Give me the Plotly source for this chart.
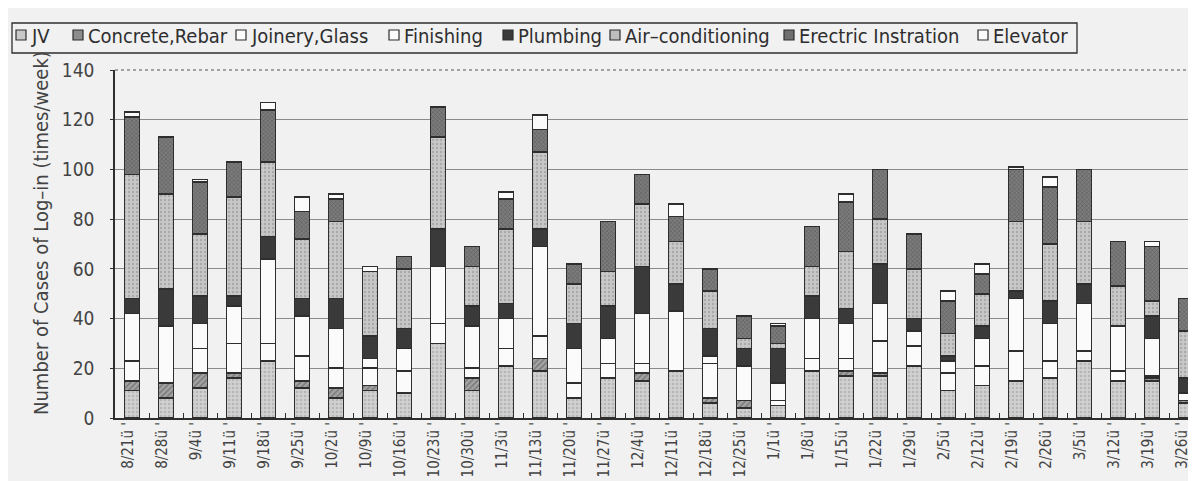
import plotly.graph_objects as go

weeks = ["8/21ü", "8/28ü", "9/4ü", "9/11ü", "9/18ü", "9/25ü", "10/2ü", "10/9ü",
         "10/16ü", "10/23ü", "10/30ü", "11/3ü", "11/13ü", "11/20ü", "11/27ü", "12/4ü",
         "12/11ü", "12/18ü", "12/25ü", "1/1ü", "1/8ü", "1/15ü", "1/22ü", "1/29ü",
         "2/5ü", "2/12ü", "2/19ü", "2/26ü", "3/5ü", "3/12ü", "3/19ü", "3/26ü"]

jv           = [11, 8, 12, 16, 23, 12, 8, 11, 10, 30, 11, 21, 19, 8, 16, 15,
                19, 6, 4, 5, 19, 17, 17, 21, 11, 13, 15, 16, 23, 15, 15, 6]
concrete     = [4, 6, 6, 2, 0, 3, 4, 2, 0, 0, 5, 0, 5, 0, 0, 3,
                0, 2, 3, 0, 0, 2, 1, 0, 0, 0, 0, 0, 0, 0, 1, 1]
joinery      = [8, 0, 10, 12, 7, 10, 8, 7, 9, 8, 4, 7, 9, 6, 6, 4,
                0, 14, 0, 2, 5, 5, 13, 8, 7, 8, 12, 7, 4, 4, 1, 0]
finishing    = [19, 23, 10, 15, 34, 16, 16, 4, 9, 23, 17, 12, 36, 14, 10, 20,
                24, 3, 14, 7, 16, 14, 15, 6, 5, 11, 21, 15, 19, 18, 15, 3]
plumbing     = [6, 15, 11, 4, 9, 7, 12, 9, 8, 15, 8, 6, 7, 10, 13, 19,
                11, 11, 7, 14, 9, 6, 16, 5, 2, 5, 3, 9, 8, 0, 9, 6]
aircon       = [50, 38, 25, 40, 30, 24, 31, 26, 24, 37, 16, 30, 31, 16, 14, 25,
                17, 15, 4, 2, 12, 23, 18, 20, 9, 13, 28, 23, 25, 16, 6, 19]
electric     = [23, 23, 21, 14, 21, 11, 9, 0, 5, 12, 8, 12, 9, 8, 20, 12,
                10, 9, 9, 7, 16, 20, 20, 14, 13, 8, 21, 23, 21, 18, 22, 13]
elevator     = [2, 0, 1, 0, 3, 6, 2, 2, 0, 0, 0, 3, 6, 0, 0, 0,
                5, 0, 0, 1, 0, 3, 0, 0, 4, 4, 1, 4, 0, 0, 2, 0]

series_names = ["JV", "Concrete,Rebar", "Joinery,Glass", "Finishing", "Plumbing",
                "Air\u2013conditioning", "Erectric Instration", "Elevator"]
series_vals = [jv, concrete, joinery, finishing, plumbing, aircon, electric, elevator]

y_ticks = [0, 20, 40, 60, 80, 100, 120, 140]

FONT = "DejaVu Sans Condensed, Liberation Sans Narrow, DejaVu Sans, sans-serif"
INK = "#2e2e2e"
BG = "#f1f1f1"

styles = [
    dict(color="#d0d0d0", pattern=dict(shape=".", bgcolor="#d0d0d0", fgcolor="#9c9c9c", size=4, solidity=0.3)),
    dict(color="#9a9a9a", pattern=dict(shape="/", bgcolor="#a4a4a4", fgcolor="#505050", size=4, solidity=0.4)),
    dict(color="#fbfbfb"),
    dict(color="#fbfbfb"),
    dict(color="#3a3a3a"),
    dict(color="#c4c4c4", pattern=dict(shape=".", bgcolor="#c8c8c8", fgcolor="#8c8c8c", size=4, solidity=0.3)),
    dict(color="#767676", pattern=dict(shape="x", bgcolor="#7c7c7c", fgcolor="#3c3c3c", size=3, solidity=0.35)),
    dict(color="#fbfbfb"),
]
swatch_colors = ["#c8c8c8", "#8c8c8c", "#fbfbfb", "#fbfbfb", "#3a3a3a", "#bdbdbd", "#6e6e6e", "#fbfbfb"]

labels = [w + " '" for w in weeks]

fig = go.Figure()
for name, vals, st in zip(series_names, series_vals, styles):
    marker = dict(color=st["color"], line=dict(color=INK, width=1.6))
    if "pattern" in st:
        marker["pattern"] = st["pattern"]
    fig.add_trace(go.Bar(x=labels, y=vals, name=name, marker=marker, showlegend=False))

L, R, T, B = 107, 1195, 62, 410
W, H = 1196, 481

def px(x):
    return (x - L) / (R - L)

def py(y):
    return (B - y) / (B - T)

shapes = []
annotations = []
# plot frame: dotted top and right
shapes.append(dict(type="line", xref="paper", yref="paper", x0=0, x1=1, y0=1, y1=1,
                   line=dict(color="#555", width=1.2, dash="dot")))
shapes.append(dict(type="line", xref="paper", yref="paper", x0=1, x1=1, y0=0, y1=1,
                   line=dict(color="#555", width=1.2, dash="dot")))

# legend box
shapes.append(dict(type="rect", xref="paper", yref="paper", x0=px(4), x1=px(1069), y0=py(15), y1=py(45),
                   line=dict(color=INK, width=1.3), fillcolor=BG, layer="above"))
sw_x = [8, 65, 228, 381, 495, 602, 776, 970]
for sx, col, name in zip(sw_x, swatch_colors, series_names):
    shapes.append(dict(type="rect", xref="paper", yref="paper", x0=px(sx), x1=px(sx + 10),
                       y0=py(22), y1=py(32), line=dict(color=INK, width=1.2), fillcolor=col, layer="above"))
    annotations.append(dict(text=name, xref="paper", yref="paper", x=px(sx + 13), y=py(28),
                            xanchor="left", yanchor="middle", showarrow=False,
                            font=dict(family=FONT, size=20, color=INK)))

annotations.append(dict(text="Number of Cases of Log\u2013in (times/week)", xref="paper", yref="paper",
                        x=px(33), y=py(225), textangle=-90, showarrow=False,
                        xanchor="center", yanchor="middle",
                        font=dict(family=FONT, size=20, color="#444")))

fig.update_layout(
    width=W, height=H,
    margin=dict(l=L, r=W - R, t=T, b=H - B, autoexpand=False),
    paper_bgcolor=BG, plot_bgcolor=BG,
    barmode="stack", bargap=0.56,
    shapes=shapes, annotations=annotations,
    font=dict(family=FONT, color=INK),
)
fig.update_xaxes(
    type="category", automargin=False, tickangle=-90,
    tickfont=dict(family=FONT, size=15, color="#444"),
    showline=True, linecolor=INK, linewidth=2,
    ticks="inside", tickson="boundaries", ticklen=5, tickcolor=INK, tickwidth=1,
    ticklabelstandoff=-4, ticklabelshift=-4,
    showgrid=False,
)
fig.update_yaxes(
    range=[0, 140], tickvals=y_ticks, automargin=False,
    tickfont=dict(family=FONT, size=19, color="#444"),
    showline=True, linecolor=INK, linewidth=1.5,
    ticks="outside", ticklen=3, tickcolor=INK, ticklabelstandoff=12,
    showgrid=True, gridcolor="#8a8a8a", gridwidth=1, zeroline=False,
)

fig.write_html("out.html")
